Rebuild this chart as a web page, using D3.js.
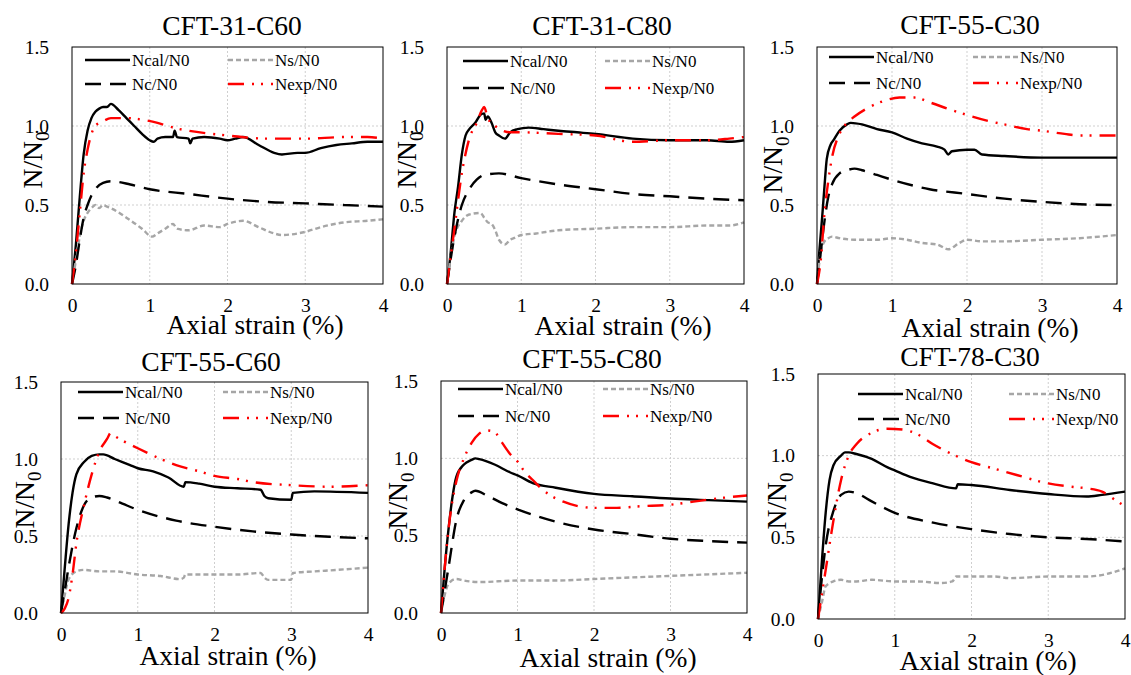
<!DOCTYPE html>
<html>
<head>
<meta charset="utf-8">
<script src="https://cdn.jsdelivr.net/npm/d3@7"></script>
<style>
  body { margin: 0; background: #fff; }
  svg text { font-family: "Liberation Serif", "Times New Roman", Times, "DejaVu Serif", serif !important; fill: #000; }
</style>
</head>
<body>
<div id="my_dataviz"></div>
<script>
// chart values: [axial strain %, N/N0]
var titles = ["CFT-31-C60", "CFT-31-C80", "CFT-55-C30", "CFT-55-C60", "CFT-55-C80", "CFT-78-C30"];
var legendLabels = ["Ncal/N0", "Ns/N0", "Nc/N0", "Nexp/N0"];
var xTicks = [0, 1, 2, 3, 4];
var yTicks = [0, 0.5, 1.0, 1.5];
var gridX = [1, 2, 3];
var gridY = [0.5, 1.0];

// CFT-31-C60
var p1_ncal = [[0,0],[0.05,0.25],[0.1,0.55],[0.15,0.82],[0.2,0.97],[0.25,1.05],[0.3,1.09],[0.35,1.11],[0.4,1.12],[0.45,1.12],[0.5,1.14],[0.6,1.10],[0.7,1.05],[0.8,1.0],[0.9,0.95],[1.0,0.91],[1.05,0.90],[1.1,0.92],[1.2,0.93],[1.3,0.93],[1.32,0.97],[1.35,0.93],[1.5,0.92],[1.52,0.89],[1.55,0.92],[1.7,0.93],[1.9,0.92],[2.0,0.91],[2.1,0.92],[2.2,0.93],[2.4,0.88],[2.6,0.83],[2.7,0.82],[2.9,0.83],[3.0,0.83],[3.2,0.86],[3.4,0.88],[3.6,0.89],[3.8,0.90],[4.0,0.90]];
var p1_ns = [[0,0],[0.05,0.15],[0.1,0.3],[0.15,0.4],[0.2,0.45],[0.25,0.48],[0.3,0.5],[0.35,0.48],[0.4,0.5],[0.45,0.49],[0.5,0.48],[0.7,0.42],[0.9,0.35],[1.03,0.30],[1.1,0.32],[1.2,0.35],[1.3,0.38],[1.35,0.35],[1.5,0.34],[1.7,0.37],[1.9,0.36],[2.0,0.38],[2.2,0.40],[2.4,0.36],[2.6,0.32],[2.7,0.31],[3.0,0.33],[3.2,0.36],[3.5,0.39],[3.8,0.40],[4.0,0.41]];
var p1_nc = [[0,0],[0.05,0.12],[0.1,0.28],[0.15,0.42],[0.2,0.5],[0.25,0.56],[0.3,0.6],[0.4,0.64],[0.5,0.65],[0.75,0.63],[1.0,0.60],[1.5,0.57],[2.0,0.54],[2.5,0.52],[3.0,0.51],[3.5,0.50],[4.0,0.49]];
var p1_nexp = [[0,0],[0.05,0.2],[0.1,0.45],[0.15,0.7],[0.2,0.85],[0.25,0.95],[0.3,1.0],[0.4,1.03],[0.5,1.05],[0.7,1.05],[0.9,1.04],[1.1,1.02],[1.3,0.99],[1.5,0.97],[1.8,0.95],[2.0,0.94],[2.5,0.92],[3.0,0.92],[3.5,0.93],[3.8,0.93],[4.0,0.92]];

// CFT-31-C80
var p2_ncal = [[0,0],[0.05,0.2],[0.1,0.45],[0.15,0.62],[0.2,0.82],[0.25,0.94],[0.3,0.98],[0.38,1.02],[0.45,1.07],[0.5,1.08],[0.52,1.04],[0.55,1.06],[0.6,1.02],[0.65,0.96],[0.7,0.94],[0.78,0.92],[0.85,0.96],[0.95,0.98],[1.1,0.99],[1.3,0.98],[1.5,0.97],[1.75,0.96],[2.0,0.95],[2.5,0.92],[3.0,0.91],[3.5,0.91],[3.8,0.90],[4.0,0.91]];
var p2_ns = [[0,0],[0.1,0.3],[0.2,0.4],[0.3,0.44],[0.45,0.45],[0.5,0.42],[0.55,0.39],[0.6,0.38],[0.65,0.34],[0.7,0.28],[0.78,0.25],[0.85,0.28],[0.9,0.29],[1.0,0.31],[1.2,0.32],[1.5,0.34],[2.0,0.35],[2.5,0.36],[3.0,0.36],[3.5,0.37],[3.8,0.37],[4.0,0.39]];
var p2_nc = [[0,0],[0.1,0.3],[0.2,0.5],[0.3,0.6],[0.4,0.66],[0.5,0.69],[0.7,0.70],[1.0,0.67],[1.5,0.63],[2.0,0.60],[2.5,0.57],[3.0,0.555],[3.5,0.54],[4.0,0.53]];
var p2_nexp = [[0,0],[0.1,0.35],[0.2,0.7],[0.3,0.92],[0.4,1.02],[0.47,1.10],[0.5,1.12],[0.55,1.05],[0.65,1.0],[0.75,0.97],[0.85,0.96],[1.0,0.96],[1.5,0.95],[2.0,0.94],[2.5,0.90],[3.0,0.91],[3.5,0.91],[3.8,0.92],[4.0,0.93]];

// CFT-55-C30
var p3_ncal = [[0,0],[0.03,0.2],[0.07,0.43],[0.1,0.62],[0.13,0.79],[0.18,0.88],[0.22,0.91],[0.3,0.97],[0.4,1.01],[0.45,1.02],[0.6,1.01],[0.8,0.98],[1.0,0.96],[1.2,0.92],[1.4,0.89],[1.6,0.87],[1.7,0.85],[1.75,0.82],[1.8,0.84],[2.0,0.85],[2.1,0.85],[2.2,0.82],[2.5,0.81],[3.0,0.80],[3.5,0.80],[4.0,0.80]];
var p3_ns = [[0,0],[0.05,0.2],[0.1,0.27],[0.15,0.29],[0.2,0.3],[0.3,0.29],[0.5,0.28],[0.8,0.28],[1.0,0.29],[1.2,0.28],[1.4,0.26],[1.6,0.25],[1.75,0.22],[1.9,0.26],[2.0,0.28],[2.2,0.27],[2.5,0.27],[3.0,0.28],[3.5,0.29],[4.0,0.31]];
var p3_nc = [[0,0],[0.05,0.2],[0.1,0.4],[0.15,0.55],[0.2,0.63],[0.3,0.7],[0.4,0.72],[0.5,0.73],[0.6,0.72],[0.8,0.69],[1.0,0.66],[1.5,0.60],[2.0,0.57],[2.5,0.54],[3.0,0.52],[3.5,0.505],[4.0,0.50]];
var p3_nexp = [[0,0],[0.05,0.15],[0.1,0.45],[0.15,0.65],[0.2,0.8],[0.3,0.95],[0.4,1.02],[0.5,1.06],[0.7,1.12],[0.9,1.16],[1.1,1.18],[1.3,1.18],[1.5,1.15],[1.8,1.1],[2.0,1.07],[2.3,1.03],[2.5,1.01],[2.8,0.98],[3.0,0.97],[3.3,0.95],[3.5,0.94],[4.0,0.94]];

// CFT-55-C60
var p4_ncal = [[0,0],[0.05,0.3],[0.1,0.58],[0.15,0.78],[0.2,0.9],[0.3,0.98],[0.4,1.02],[0.5,1.03],[0.55,1.03],[0.7,1.0],[0.9,0.96],[1.0,0.94],[1.2,0.92],[1.4,0.88],[1.6,0.82],[1.62,0.85],[1.8,0.84],[2.0,0.82],[2.3,0.81],[2.6,0.80],[2.65,0.76],[2.7,0.745],[3.0,0.735],[3.02,0.78],[3.3,0.79],[4.0,0.78]];
var p4_ns = [[0,0],[0.05,0.12],[0.1,0.22],[0.2,0.27],[0.3,0.28],[0.5,0.27],[0.7,0.27],[1.0,0.25],[1.3,0.24],[1.55,0.22],[1.6,0.23],[1.62,0.25],[2.0,0.25],[2.3,0.25],[2.6,0.26],[2.65,0.23],[2.7,0.215],[3.0,0.215],[3.02,0.26],[3.3,0.27],[3.6,0.28],[4.0,0.295]];
var p4_nc = [[0,0],[0.05,0.15],[0.1,0.3],[0.2,0.55],[0.3,0.7],[0.4,0.75],[0.5,0.76],[0.6,0.75],[0.8,0.71],[1.0,0.67],[1.5,0.60],[2.0,0.56],[2.5,0.53],[3.0,0.51],[3.5,0.495],[4.0,0.485]];
var p4_nexp = [[0,0],[0.05,0.03],[0.1,0.1],[0.15,0.25],[0.2,0.45],[0.3,0.7],[0.4,0.9],[0.5,1.05],[0.6,1.13],[0.65,1.17],[0.7,1.15],[0.8,1.12],[1.0,1.07],[1.3,1.0],[1.5,0.96],[1.8,0.92],[2.0,0.89],[2.3,0.87],[2.5,0.85],[3.0,0.83],[3.5,0.82],[4.0,0.83]];

// CFT-55-C80
var p5_ncal = [[0,0],[0.05,0.3],[0.1,0.55],[0.15,0.75],[0.2,0.88],[0.3,0.96],[0.4,0.99],[0.45,1.0],[0.5,0.995],[0.7,0.96],[0.9,0.91],[1.0,0.89],[1.2,0.84],[1.5,0.81],[2.0,0.77],[2.5,0.755],[3.0,0.74],[3.5,0.73],[4.0,0.72]];
var p5_ns = [[0,0],[0.05,0.12],[0.1,0.19],[0.2,0.22],[0.3,0.21],[0.5,0.2],[1.0,0.21],[1.5,0.21],[2.0,0.22],[2.5,0.23],[3.0,0.24],[3.5,0.25],[4.0,0.26]];
var p5_nc = [[0,0],[0.1,0.3],[0.2,0.6],[0.3,0.73],[0.4,0.78],[0.45,0.79],[0.6,0.76],[0.8,0.71],[1.0,0.67],[1.5,0.59],[2.0,0.54],[2.5,0.51],[3.0,0.48],[3.5,0.465],[4.0,0.455]];
var p5_nexp = [[0,0],[0.05,0.3],[0.1,0.55],[0.2,0.85],[0.3,1.0],[0.4,1.1],[0.5,1.16],[0.6,1.18],[0.7,1.17],[0.8,1.1],[0.9,1.03],[1.0,0.98],[1.1,0.91],[1.2,0.86],[1.3,0.81],[1.4,0.77],[1.6,0.72],[1.8,0.69],[2.0,0.68],[2.3,0.68],[2.6,0.69],[3.0,0.70],[3.3,0.72],[3.6,0.74],[4.0,0.76]];

// CFT-78-C30
var p6_ncal = [[0,0],[0.05,0.35],[0.1,0.65],[0.15,0.85],[0.2,0.94],[0.3,1.0],[0.35,1.02],[0.4,1.02],[0.5,1.01],[0.7,0.98],[0.9,0.93],[1.0,0.91],[1.2,0.87],[1.5,0.83],[1.8,0.80],[1.82,0.825],[2.0,0.82],[2.5,0.79],[3.0,0.765],[3.5,0.75],[3.7,0.76],[4.0,0.78]];
var p6_ns = [[0,0],[0.05,0.1],[0.1,0.2],[0.2,0.23],[0.3,0.24],[0.4,0.23],[0.5,0.23],[0.7,0.24],[1.0,0.23],[1.3,0.23],[1.6,0.22],[1.75,0.23],[1.8,0.26],[2.0,0.26],[2.3,0.26],[2.5,0.25],[3.0,0.26],[3.5,0.26],[3.8,0.28],[4.0,0.31]];
var p6_nc = [[0,0],[0.05,0.25],[0.1,0.45],[0.2,0.66],[0.3,0.76],[0.4,0.78],[0.5,0.77],[0.7,0.72],[1.0,0.65],[1.5,0.59],[2.0,0.55],[2.5,0.52],[3.0,0.50],[3.5,0.49],[4.0,0.475]];
var p6_nexp = [[0,0],[0.1,0.3],[0.2,0.6],[0.3,0.85],[0.4,1.0],[0.5,1.07],[0.7,1.14],[0.9,1.165],[1.1,1.16],[1.3,1.13],[1.5,1.07],[1.7,1.02],[2.0,0.96],[2.3,0.92],[2.6,0.88],[3.0,0.83],[3.3,0.81],[3.5,0.80],[3.7,0.78],[3.9,0.72],[4.0,0.69]];

var seriesData = [
  [p1_ncal, p1_ns, p1_nc, p1_nexp],
  [p2_ncal, p2_ns, p2_nc, p2_nexp],
  [p3_ncal, p3_ns, p3_nc, p3_nexp],
  [p4_ncal, p4_ns, p4_nc, p4_nexp],
  [p5_ncal, p5_ns, p5_nc, p5_nexp],
  [p6_ncal, p6_ns, p6_nc, p6_nexp]
];

// line styles, in legend order
var styles = [
  {stroke: "#000", dash: null},
  {stroke: "#a6a6a6", dash: "5,3"},
  {stroke: "#000", dash: "16,9"},
  {stroke: "#ff0000", dash: "16,8,2,7,2,8"}
];

// plot boxes, label and legend positions, in page pixels
var layout = [
  {l: 72,  r: 383,  t: 47,  b: 284, tx: 232, ty: 35,  ax: 255, ay: 334, yx: 33,  yy: 160, lx1: 85,  lx2: 228,  ly1: 60,  ly2: 84},
  {l: 447, r: 744,  t: 47,  b: 284, tx: 602, ty: 35,  ax: 623, ay: 335, yx: 407, yy: 160, lx1: 463, lx2: 605,  ly1: 61,  ly2: 88},
  {l: 817, r: 1117, t: 47,  b: 284, tx: 970, ty: 34,  ax: 990, ay: 337, yx: 773, yy: 165, lx1: 829, lx2: 973,  ly1: 57,  ly2: 83},
  {l: 61,  r: 368,  t: 382, b: 613, tx: 211, ty: 371, ax: 228, ay: 665, yx: 25,  yy: 500, lx1: 78,  lx2: 223,  ly1: 392, ly2: 418},
  {l: 441, r: 747,  t: 381, b: 613, tx: 592, ty: 368, ax: 608, ay: 667, yx: 398, yy: 501, lx1: 458, lx2: 603,  ly1: 389, ly2: 416},
  {l: 818, r: 1125, t: 374, b: 619, tx: 970, ty: 366, ax: 988, ay: 670, yx: 777, yy: 501, lx1: 858, lx2: 1009, ly1: 394, ly2: 419}
];

var serif = "'Liberation Serif', 'Times New Roman', Times, 'DejaVu Serif', serif";

var svg = d3.select("#my_dataviz")
  .append("svg")
  .attr("width", 1131)
  .attr("height", 675)
  .attr("font-family", serif);

titles.forEach(function(title, i) {
  var L = layout[i];
  var x = d3.scaleLinear().domain([0, 4]).range([L.l, L.r]);
  var y = d3.scaleLinear().domain([0, 1.5]).range([L.b, L.t]);
  var g = svg.append("g");

  // grid
  g.selectAll(".gx").data(gridX).join("line")
    .attr("x1", function(d) { return x(d); }).attr("x2", function(d) { return x(d); })
    .attr("y1", L.t).attr("y2", L.b)
    .attr("stroke", "#cfcfcf").attr("stroke-width", 1).attr("stroke-dasharray", "2,2");
  g.selectAll(".gy").data(gridY).join("line")
    .attr("y1", function(d) { return y(d); }).attr("y2", function(d) { return y(d); })
    .attr("x1", L.l).attr("x2", L.r)
    .attr("stroke", "#cfcfcf").attr("stroke-width", 1).attr("stroke-dasharray", "2,2");

  // axes (labels only, the frame is drawn as a rect)
  var xa = g.append("g")
    .attr("transform", "translate(0," + L.b + ")")
    .call(d3.axisBottom(x).tickValues(xTicks).tickSize(0).tickPadding(14).tickFormat(d3.format("d")));
  var ya = g.append("g")
    .attr("transform", "translate(" + L.l + ",0)")
    .call(d3.axisLeft(y).tickValues(yTicks).tickSize(0).tickPadding(23).tickFormat(d3.format(".1f")));
  [xa, ya].forEach(function(a) {
    a.attr("font-family", serif).attr("font-size", 19);
    a.select(".domain").remove();
    a.selectAll("text").style("font-family", serif).style("font-size", "19.5px");
  });

  // series
  var line = d3.line()
    .x(function(d) { return x(d[0]); })
    .y(function(d) { return y(d[1]); })
    .curve(d3.curveMonotoneX);
  seriesData[i].forEach(function(s, k) {
    g.append("path")
      .datum(s)
      .attr("d", line)
      .attr("fill", "none")
      .attr("stroke", styles[k].stroke)
      .attr("stroke-width", 2.4)
      .attr("stroke-dasharray", styles[k].dash);
  });

  // frame
  g.append("rect")
    .attr("x", L.l).attr("y", L.t)
    .attr("width", L.r - L.l).attr("height", L.b - L.t)
    .attr("fill", "none").attr("stroke", "#000").attr("stroke-width", 1);

  // legend: row 1 Ncal, Ns; row 2 Nc, Nexp
  var slots = [[L.lx1, L.ly1], [L.lx2, L.ly1], [L.lx1, L.ly2], [L.lx2, L.ly2]];
  legendLabels.forEach(function(lab, k) {
    var sx = slots[k][0], sy = slots[k][1];
    g.append("line")
      .attr("x1", sx).attr("x2", sx + 45)
      .attr("y1", sy).attr("y2", sy)
      .attr("stroke", styles[k].stroke)
      .attr("stroke-width", 2.6)
      .attr("stroke-dasharray", styles[k].dash);
    g.append("text")
      .attr("x", sx + 47).attr("y", sy + 6)
      .style("font-family", serif)
      .style("font-size", "17px")
      .text(lab);
  });

  // title
  g.append("text")
    .attr("x", L.tx).attr("y", L.ty)
    .attr("text-anchor", "middle")
    .style("font-family", serif)
    .style("font-size", "27.5px")
    .text(title);

  // x axis label
  g.append("text")
    .attr("x", L.ax).attr("y", L.ay)
    .attr("text-anchor", "middle")
    .style("font-family", serif)
    .style("font-size", "27.5px")
    .text("Axial strain (%)");

  // y axis label N/N0 with subscript
  var yl = g.append("text")
    .attr("transform", "translate(" + (L.yx + 9) + "," + L.yy + ") rotate(-90)")
    .attr("text-anchor", "middle")
    .style("font-family", serif)
    .style("font-size", "27.5px");
  yl.append("tspan").text("N/N");
  yl.append("tspan").attr("dy", 7).style("font-size", "19px").text("0");
});
</script>
</body>
</html>
